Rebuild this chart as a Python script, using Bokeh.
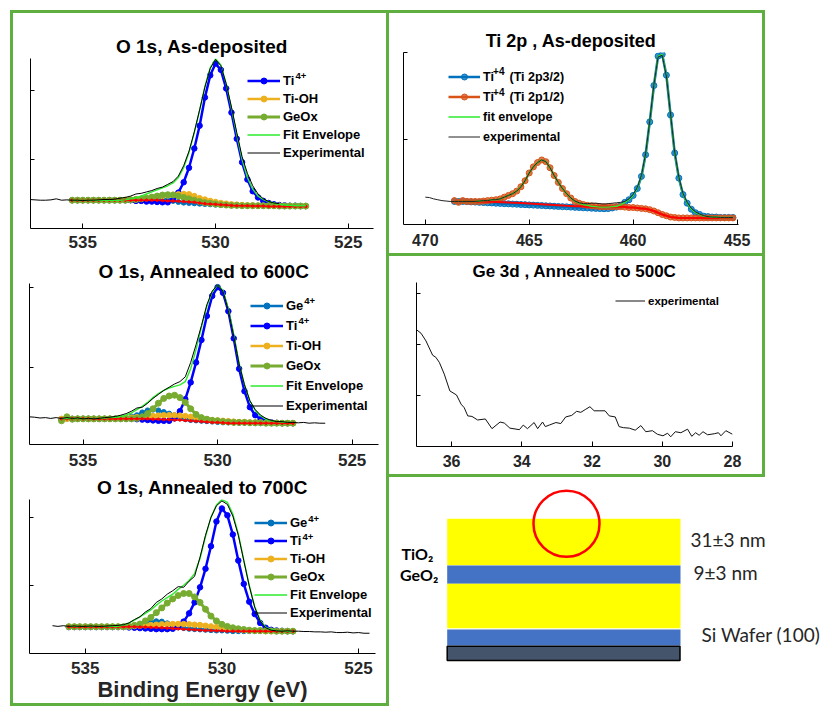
from bokeh.plotting import figure
from bokeh.models import Range1d, FixedTicker, Legend, LegendItem, Spacer, Label
from bokeh.layouts import row, column
from bokeh.embed import file_html
from bokeh.resources import INLINE
from bokeh.core.properties import value

# ======================= DATA =======================
# ---- O 1s, As-deposited ----
P1_E = [535.4, 535.2, 535.0, 534.8, 534.6, 534.4, 534.2, 534.0, 533.8, 533.6, 533.4, 533.2, 533.0,
        532.8, 532.6, 532.4, 532.2, 532.0, 531.8, 531.6, 531.4, 531.2, 531.0, 530.8, 530.6, 530.4,
        530.2, 530.0, 529.8, 529.6, 529.4, 529.2, 529.0, 528.8, 528.6, 528.4, 528.2, 528.0, 527.8,
        527.6, 527.4, 527.2, 527.0, 526.8, 526.6]
P1_TI4 = [0.41, 0.41, 0.41, 0.41, 0.41, 0.41, 0.41, 0.41, 0.41, 0.41, 0.41,
          0.41, 0.40, 0.40, 0.39, 0.39, 0.385, 0.38, 0.38, 0.42,
          0.52, 0.67, 0.88, 1.16, 1.49, 1.90, 2.22, 2.39, 2.30, 2.03,
          1.68, 1.30, 0.96, 0.71, 0.54, 0.45, 0.40, 0.37, 0.35, 0.34,
          0.335, 0.33, 0.33, 0.325, 0.325]
P1_TIOH = [0.41, 0.41, 0.41, 0.41, 0.41, 0.41, 0.41, 0.41, 0.41, 0.41,
           0.415, 0.42, 0.425, 0.43, 0.44, 0.45, 0.46, 0.47, 0.48, 0.49,
           0.495, 0.50, 0.495, 0.47, 0.44, 0.42, 0.40, 0.385, 0.37, 0.36,
           0.35, 0.345, 0.34, 0.335, 0.335, 0.33, 0.33, 0.33, 0.33, 0.33,
           0.325, 0.325, 0.325, 0.325, 0.325]
P1_GEOX = [0.41, 0.41, 0.41, 0.41, 0.41, 0.41, 0.41, 0.41, 0.41, 0.41, 0.41,
           0.415, 0.42, 0.43, 0.44, 0.455, 0.47, 0.485, 0.49, 0.485, 0.47,
           0.45, 0.43, 0.41, 0.39, 0.375, 0.365, 0.355, 0.345, 0.34, 0.335,
           0.335, 0.33, 0.33, 0.33, 0.33, 0.33, 0.33, 0.33, 0.325, 0.325, 0.325, 0.325, 0.325, 0.325]
P1_GE4 = [0.41, 0.41, 0.41, 0.41, 0.41, 0.41, 0.41, 0.41, 0.41, 0.41, 0.41, 0.41, 0.41, 0.41, 0.41,
          0.415, 0.42, 0.42, 0.415, 0.40, 0.385, 0.375, 0.37, 0.365, 0.36,
          0.355, 0.35, 0.345, 0.34, 0.34, 0.335, 0.335, 0.33, 0.33, 0.33,
          0.33, 0.33, 0.325, 0.325, 0.325, 0.325, 0.325, 0.325, 0.325, 0.325]
P1_BG = [0.41, 0.41, 0.41, 0.41, 0.41, 0.41, 0.41, 0.41, 0.41, 0.41, 0.41, 0.41, 0.41, 0.41, 0.41, 0.41, 0.41,
         0.405, 0.40, 0.40, 0.395, 0.39, 0.385, 0.38, 0.37, 0.36, 0.355,
         0.35, 0.345, 0.34, 0.335, 0.33, 0.33, 0.33, 0.325, 0.325, 0.325,
         0.32, 0.32, 0.32, 0.32, 0.32, 0.32, 0.32, 0.32]
P1_ENV = [0.41, 0.41, 0.41, 0.41, 0.41, 0.41, 0.41, 0.41, 0.41, 0.41,
          0.415, 0.43, 0.445, 0.47, 0.50, 0.53, 0.56, 0.59, 0.62, 0.66,
          0.74, 0.88, 1.10, 1.39, 1.71, 2.06, 2.33, 2.46, 2.37, 2.10,
          1.74, 1.36, 1.00, 0.74, 0.57, 0.47, 0.42, 0.39, 0.37, 0.35,
          0.34, 0.335, 0.33, 0.33, 0.33]
P1_EXP_E = [537.0, 536.8, 536.6, 536.4, 536.2, 536.0, 535.8, 535.6, 535.4, 535.2,
            535.0, 534.8, 534.6, 534.4, 534.2, 534.0, 533.8, 533.6, 533.4, 533.2,
            533.0, 532.8, 532.6, 532.4, 532.2, 532.0, 531.8, 531.6, 531.4, 531.2,
            531.0, 530.8, 530.6, 530.4, 530.2, 530.0, 529.8, 529.6, 529.4, 529.2,
            529.0, 528.8, 528.6, 528.4, 528.2, 528.0, 527.8, 527.6]
P1_EXP = [0.42, 0.415, 0.41, 0.41, 0.415, 0.43, 0.41, 0.415, 0.41, 0.41,
          0.405, 0.41, 0.41, 0.415, 0.42, 0.42, 0.425, 0.44, 0.45, 0.47,
          0.50, 0.51, 0.53, 0.55, 0.58, 0.60, 0.64, 0.68, 0.76, 0.91,
          1.12, 1.40, 1.72, 2.05, 2.32, 2.45, 2.36, 2.10, 1.76, 1.39,
          1.04, 0.80, 0.62, 0.50, 0.43, 0.39, 0.37, 0.36]

# ---- O 1s, Annealed to 600C ----
P2_E = [535.8, 535.6, 535.4, 535.2, 535.0, 534.8, 534.6, 534.4, 534.2, 534.0, 533.8, 533.6, 533.4,
        533.2, 533.0, 532.8, 532.6, 532.4, 532.2, 532.0, 531.8, 531.6, 531.4, 531.2, 531.0, 530.8,
        530.6, 530.4, 530.2, 530.0, 529.8, 529.6, 529.4, 529.2, 529.0, 528.8, 528.6, 528.4, 528.2,
        528.0, 527.8, 527.6, 527.4, 527.2]
P2_GE4 = [0.34, 0.37, 0.35,
          0.355, 0.355, 0.355, 0.355, 0.355, 0.355, 0.355, 0.355,
          0.36, 0.37, 0.385, 0.40, 0.435, 0.46, 0.47, 0.46, 0.44, 0.42,
          0.40, 0.37, 0.35, 0.34, 0.335, 0.33, 0.325, 0.32, 0.315, 0.31,
          0.31, 0.31, 0.305, 0.305, 0.305, 0.30, 0.30, 0.30, 0.30, 0.30, 0.30, 0.30, 0.30]
P2_TI4 = [0.35, 0.36, 0.355,
          0.355, 0.355, 0.355, 0.355, 0.355, 0.355, 0.355, 0.355, 0.355, 0.355, 0.355,
          0.35, 0.345, 0.34, 0.335, 0.33, 0.33, 0.33,
          0.36, 0.45, 0.60, 0.81, 1.06, 1.34, 1.64, 1.89, 2.00, 1.93,
          1.70, 1.36, 0.98, 0.70, 0.50, 0.40, 0.35, 0.32, 0.31, 0.305,
          0.30, 0.30, 0.30]
P2_TIOH = [0.355, 0.355, 0.355, 0.355, 0.355, 0.355, 0.355, 0.355, 0.355, 0.355, 0.355,
           0.36, 0.365, 0.37, 0.375, 0.38, 0.385, 0.39, 0.395, 0.40, 0.40,
           0.40, 0.395, 0.39, 0.38, 0.37, 0.36, 0.35, 0.34, 0.335, 0.33,
           0.325, 0.32, 0.315, 0.315, 0.31, 0.31, 0.31, 0.305, 0.305, 0.305, 0.30, 0.30, 0.30]
P2_GEOX = [0.33, 0.38, 0.35,
           0.355, 0.355, 0.355, 0.355, 0.355, 0.355, 0.355, 0.355, 0.355, 0.355, 0.355,
           0.36, 0.38, 0.42, 0.48, 0.55, 0.61, 0.64, 0.65, 0.62, 0.56,
           0.48, 0.41, 0.37, 0.35, 0.335, 0.33, 0.32, 0.315, 0.31, 0.31,
           0.31, 0.305, 0.305, 0.305, 0.30, 0.30, 0.30, 0.30, 0.30, 0.30]
P2_BG = [0.355, 0.355, 0.355, 0.355, 0.355, 0.355, 0.355, 0.355, 0.355, 0.355, 0.355, 0.355, 0.355,
         0.355, 0.355, 0.355, 0.355,
         0.35, 0.35, 0.345, 0.345, 0.34, 0.34, 0.335, 0.33, 0.325, 0.32, 0.315, 0.31, 0.31, 0.305,
         0.30, 0.30, 0.30, 0.30, 0.30, 0.30, 0.30, 0.30, 0.30, 0.30, 0.30, 0.30, 0.30]
P2_ENV = [0.355, 0.36, 0.355, 0.355, 0.355, 0.355, 0.36, 0.36, 0.365, 0.37,
          0.375, 0.385, 0.40, 0.43, 0.47, 0.51, 0.56, 0.62, 0.67, 0.71,
          0.74, 0.76, 0.78, 0.82, 0.98, 1.22, 1.50, 1.76, 1.94, 2.03,
          1.96, 1.73, 1.41, 1.05, 0.78, 0.58, 0.46, 0.39, 0.35, 0.33,
          0.32, 0.315, 0.31, 0.31]
P2_EXP_E = [537.0, 536.8, 536.6, 536.4, 536.2, 536.0, 535.8, 535.6, 535.4, 535.2,
            535.0, 534.8, 534.6, 534.4, 534.2, 534.0, 533.8, 533.6, 533.4, 533.2,
            533.0, 532.8, 532.6, 532.4, 532.2, 532.0, 531.8, 531.6, 531.4, 531.2,
            531.0, 530.8, 530.6, 530.4, 530.2, 530.0, 529.8, 529.6, 529.4, 529.2,
            529.0, 528.8, 528.6, 528.4, 528.2, 528.0, 527.8, 527.6, 527.4, 527.2,
            527.0, 526.8, 526.6, 526.4, 526.2, 526.0]
P2_EXP = [0.38, 0.375, 0.365, 0.37, 0.36, 0.37, 0.36, 0.37, 0.36, 0.365,
          0.355, 0.36, 0.355, 0.36, 0.37, 0.375, 0.385, 0.40, 0.42, 0.45,
          0.49, 0.50, 0.55, 0.61, 0.66, 0.71, 0.75, 0.79, 0.82, 0.88,
          1.06, 1.28, 1.52, 1.78, 1.95, 2.03, 1.95, 1.71, 1.39, 1.04,
          0.78, 0.58, 0.47, 0.40, 0.36, 0.335, 0.32, 0.32, 0.31, 0.31,
          0.305, 0.31, 0.30, 0.305, 0.30, 0.30]

# ---- O 1s, Annealed to 700C ----
P3_E = [535.6, 535.4, 535.2, 535.0, 534.8, 534.6, 534.4, 534.2, 534.0, 533.8, 533.6, 533.4, 533.2,
        533.0, 532.8, 532.6, 532.4, 532.2, 532.0, 531.8, 531.6, 531.4, 531.2, 531.0, 530.8, 530.6,
        530.4, 530.2, 530.0, 529.8, 529.6, 529.4, 529.2, 529.0, 528.8, 528.6, 528.4, 528.2, 528.0,
        527.8, 527.6, 527.4]
P3_GE4 = [0.405, 0.405, 0.405, 0.405, 0.405, 0.405, 0.405, 0.405, 0.405, 0.405, 0.405, 0.405,
          0.41, 0.42, 0.445, 0.47, 0.485, 0.48, 0.455, 0.425, 0.40, 0.385,
          0.375, 0.37, 0.365, 0.36, 0.355, 0.35, 0.35, 0.345,
          0.34, 0.34, 0.34, 0.34, 0.34, 0.34, 0.34, 0.34, 0.34, 0.34, 0.34, 0.34]
P3_TI4 = [0.40, 0.40, 0.40, 0.40, 0.40, 0.40, 0.40, 0.40, 0.40, 0.40, 0.40,
          0.395, 0.39, 0.385, 0.38, 0.375, 0.37, 0.37, 0.37, 0.375,
          0.40, 0.48, 0.60, 0.76, 0.98, 1.25, 1.58, 1.94, 2.13, 2.03,
          1.75, 1.37, 1.03, 0.77, 0.59, 0.46, 0.39, 0.36, 0.35, 0.345,
          0.34, 0.34]
P3_TIOH = [0.405, 0.405, 0.405, 0.405, 0.405, 0.405, 0.405, 0.405, 0.405, 0.405, 0.405,
           0.41, 0.415, 0.42, 0.425, 0.43, 0.435, 0.44, 0.44, 0.445, 0.445,
           0.445, 0.44, 0.435, 0.43, 0.42, 0.41, 0.40, 0.39, 0.38, 0.37,
           0.36, 0.355, 0.35, 0.345, 0.345, 0.34, 0.34, 0.34, 0.34, 0.34, 0.34]
P3_GEOX = [0.405, 0.405, 0.405, 0.405, 0.405, 0.405, 0.405, 0.405, 0.405, 0.405, 0.405,
           0.41, 0.425, 0.445, 0.49, 0.54, 0.61, 0.68, 0.75, 0.81, 0.86,
           0.89, 0.89, 0.84, 0.76, 0.66, 0.56, 0.49, 0.44, 0.41, 0.39,
           0.375, 0.365, 0.355, 0.35, 0.35, 0.345, 0.345, 0.34, 0.34, 0.34, 0.34]
P3_BG = [0.405, 0.405, 0.405, 0.405, 0.405, 0.405, 0.405, 0.405, 0.405, 0.405, 0.405, 0.405, 0.405,
         0.40, 0.40, 0.395, 0.395, 0.39, 0.385, 0.38, 0.375, 0.37, 0.365, 0.36, 0.355, 0.35, 0.35,
         0.345, 0.345,
         0.34, 0.34, 0.34, 0.34, 0.34, 0.34, 0.34, 0.34, 0.34, 0.34, 0.34, 0.34, 0.34]
P3_ENV = [0.41, 0.41, 0.41, 0.41, 0.41, 0.41, 0.41, 0.41, 0.41, 0.41,
          0.43, 0.46, 0.50, 0.55, 0.60, 0.65, 0.72, 0.78, 0.83, 0.88,
          0.95, 1.01, 1.08, 1.18, 1.40, 1.72, 2.00, 2.18, 2.26, 2.22,
          2.05, 1.76, 1.38, 1.01, 0.70, 0.50, 0.40, 0.36, 0.35, 0.345,
          0.34, 0.34]
P3_EXP_E = [536.2, 536.0, 535.8, 535.6, 535.4, 535.2, 535.0, 534.8, 534.6, 534.4,
            534.2, 534.0, 533.8, 533.6, 533.4, 533.2, 533.0, 532.8, 532.6, 532.4,
            532.2, 532.0, 531.8, 531.6, 531.4, 531.2, 531.0, 530.8, 530.6, 530.4,
            530.2, 530.0, 529.8, 529.6, 529.4, 529.2, 529.0, 528.8, 528.6, 528.4,
            528.2, 528.0, 527.8, 527.6, 527.4, 527.2, 527.0, 526.8, 526.6, 526.4,
            526.2, 526.0, 525.8, 525.6, 525.4, 525.2, 525.0, 524.8, 524.6]
P3_EXP = [0.42, 0.41, 0.42, 0.41, 0.415, 0.41, 0.41, 0.415, 0.41, 0.41,
          0.415, 0.42, 0.425, 0.435, 0.46, 0.51, 0.55, 0.62, 0.67, 0.76,
          0.81, 0.88, 0.93, 0.99, 0.98, 1.07, 1.14, 1.42, 1.74, 2.00,
          2.17, 2.24, 2.19, 2.02, 1.74, 1.37, 1.00, 0.69, 0.49, 0.39,
          0.355, 0.345, 0.34, 0.345, 0.34, 0.34, 0.335, 0.335, 0.33, 0.33,
          0.325, 0.33, 0.32, 0.32, 0.325, 0.315, 0.32, 0.31, 0.31]

# ---- Ti 2p, As-deposited ----
TI_E = [468.6, 468.4, 468.2, 468.0, 467.8, 467.6, 467.4, 467.2, 467.0, 466.8, 466.6, 466.4,
        466.2, 466.0, 465.8, 465.6, 465.4, 465.2, 465.0, 464.8, 464.6, 464.4, 464.2, 464.0,
        463.8, 463.6, 463.4, 463.2, 463.0, 462.8, 462.6, 462.4, 462.2, 462.0, 461.8, 461.6,
        461.4, 461.2, 461.0, 460.8, 460.6, 460.4, 460.2, 460.0, 459.8, 459.6, 459.4, 459.2,
        459.0, 458.8, 458.6, 458.4, 458.2, 458.0, 457.8, 457.6, 457.4, 457.2, 457.0, 456.8,
        456.6, 456.4, 456.2, 456.0, 455.8, 455.6, 455.4, 455.2]
TI_2P3 = [0.28, 0.28, 0.28, 0.278, 0.275, 0.273,
          0.27, 0.268, 0.265, 0.263, 0.26, 0.258,
          0.255, 0.253, 0.25, 0.248, 0.245, 0.243,
          0.24, 0.238, 0.235, 0.233, 0.23, 0.228,
          0.225, 0.222, 0.22, 0.218, 0.215, 0.212,
          0.21, 0.207, 0.205, 0.202, 0.20, 0.198,
          0.196, 0.198, 0.205, 0.215, 0.23,
          0.27, 0.30, 0.35, 0.43, 0.57, 0.82, 1.20,
          1.62, 1.96, 1.98, 1.74, 1.28, 0.84,
          0.55, 0.36, 0.26, 0.19, 0.15, 0.13,
          0.11, 0.105, 0.10, 0.10, 0.095, 0.095, 0.095, 0.095]
TI_2P1 = [0.29, 0.27, 0.29, 0.28, 0.28, 0.28, 0.28, 0.285,
          0.29, 0.295, 0.30, 0.31, 0.33, 0.35,
          0.37, 0.40, 0.45, 0.52, 0.61, 0.68,
          0.73, 0.76, 0.74, 0.67, 0.58, 0.50,
          0.43, 0.37, 0.32, 0.28, 0.26, 0.245,
          0.235, 0.23, 0.225, 0.22, 0.22, 0.22,
          0.22, 0.22, 0.22, 0.215, 0.21, 0.21,
          0.205, 0.20, 0.195, 0.185, 0.17, 0.15,
          0.13, 0.115, 0.10, 0.095, 0.09, 0.09,
          0.09, 0.09, 0.09, 0.09, 0.09, 0.09, 0.09, 0.09, 0.09, 0.09, 0.09, 0.09]
TI_BG = [0.28, 0.28, 0.28, 0.28, 0.28, 0.28, 0.28, 0.28,
         0.278, 0.276, 0.274, 0.272, 0.27, 0.268,
         0.266, 0.264, 0.262, 0.26, 0.257, 0.254,
         0.251, 0.248, 0.245, 0.242, 0.239, 0.236,
         0.233, 0.23, 0.228, 0.226, 0.224, 0.222,
         0.22, 0.22, 0.22, 0.22, 0.22, 0.22,
         0.22, 0.22, 0.22, 0.215, 0.21, 0.21,
         0.205, 0.20, 0.195, 0.185, 0.17, 0.15,
         0.13, 0.115, 0.10, 0.095, 0.09, 0.09,
         0.09, 0.09, 0.09, 0.09, 0.09, 0.09, 0.09, 0.09, 0.09, 0.09, 0.09, 0.09]
TI_ENV = [0.28, 0.28, 0.28, 0.28, 0.28, 0.28, 0.285, 0.29,
          0.29, 0.30, 0.30, 0.31, 0.33, 0.35,
          0.37, 0.40, 0.45, 0.52, 0.61, 0.68,
          0.73, 0.76, 0.74, 0.67, 0.58, 0.50,
          0.43, 0.37, 0.32, 0.28, 0.26, 0.245,
          0.235, 0.225, 0.22, 0.215, 0.215, 0.215,
          0.22, 0.225, 0.24, 0.27, 0.30, 0.35,
          0.43, 0.57, 0.82, 1.20, 1.62, 1.96,
          1.98, 1.74, 1.28, 0.84, 0.55, 0.36,
          0.26, 0.19, 0.15, 0.13, 0.11, 0.105,
          0.10, 0.10, 0.095, 0.095, 0.095, 0.095]
TI_EXP_E = [470.0, 469.8, 469.6, 469.4, 469.2, 469.0, 468.8] + TI_E
TI_EXP = [0.33, 0.325, 0.31, 0.30, 0.29, 0.285, 0.28,
          0.28, 0.28, 0.28, 0.28, 0.28, 0.28, 0.285, 0.29,
          0.29, 0.30, 0.30, 0.31, 0.33, 0.35,
          0.37, 0.40, 0.45, 0.52, 0.61, 0.68,
          0.73, 0.76, 0.74, 0.67, 0.58, 0.50,
          0.43, 0.37, 0.32, 0.285, 0.265, 0.255,
          0.255, 0.26, 0.26, 0.255, 0.25, 0.255,
          0.26, 0.265, 0.27, 0.28, 0.31, 0.36,
          0.44, 0.58, 0.83, 1.21, 1.63, 1.95,
          1.97, 1.73, 1.29, 0.85, 0.56, 0.37,
          0.27, 0.20, 0.16, 0.135, 0.115, 0.105,
          0.10, 0.10, 0.095, 0.095, 0.095, 0.095]

# ---- Ge 3d, Annealed to 500C ----
GE_E = [37.0, 36.87, 36.73, 36.54, 36.45, 36.35, 36.21, 36.05, 35.86, 35.73,
        35.64, 35.54, 35.42, 35.26, 35.04, 34.85, 34.62, 34.5, 34.34, 34.07,
        33.96, 33.84, 33.65, 33.55, 33.41, 33.33, 33.22, 33.03, 32.89, 32.75,
        32.58, 32.44, 32.32, 32.18, 32.06, 31.94, 31.8, 31.63, 31.51, 31.34,
        31.23, 31.11, 30.94, 30.77, 30.61, 30.47, 30.28, 30.14, 29.98, 29.85,
        29.76, 29.63, 29.47, 29.28, 29.16, 29.05, 28.95, 28.84, 28.71, 28.52,
        28.4, 28.33, 28.19, 28.0]
GE_Y = [2.29, 2.22, 2.07, 1.79, 1.75, 1.65, 1.42, 1.09, 1.01, 0.83,
        0.76, 0.60, 0.59, 0.52, 0.54, 0.35, 0.48, 0.46, 0.36, 0.33,
        0.42, 0.35, 0.47, 0.35, 0.48, 0.39, 0.42, 0.47, 0.45, 0.58,
        0.61, 0.69, 0.67, 0.73, 0.78, 0.70, 0.70, 0.70, 0.60, 0.58,
        0.39, 0.37, 0.36, 0.32, 0.41, 0.29, 0.31, 0.24, 0.21, 0.26,
        0.19, 0.29, 0.27, 0.34, 0.20, 0.27, 0.22, 0.29, 0.23, 0.25,
        0.27, 0.21, 0.31, 0.24]

# tick values
O1S_XTICKS = [535, 530, 525]
TI_XTICKS = [470, 465, 460, 455]
GE_XTICKS = [36, 34, 32, 30, 28]

# schematic labels
STACK_LEFT = ["TiO\u2082", "GeO\u2082"]
STACK_RIGHT = ["31\u00b13 nm", "9\u00b13 nm", "Si Wafer (100)"]

# ======================= STYLE =======================
FONT = "Liberation Sans"
BOX = "#5FAE40"
C_GE4 = "#0072BD"
C_TI4 = "#0000FF"
C_TIOH = "#EDB120"
C_GEOX = "#77AC30"
C_ENV = "#2DEB2D"
C_EXP = "#000000"
C_BG = "#FF0000"
C_2P3 = "#0072BD"
C_2P1 = "#D95319"


def make_panel(w, h, xr, yr, borders, title, tsize, xticks, yticks, tick_px, tick_standoff):
    l, r, t, b = borders
    p = figure(width=w, height=h, x_range=Range1d(*xr), y_range=Range1d(*yr),
               output_backend="svg", toolbar_location=None, title=title,
               min_border_left=l, min_border_right=r, min_border_top=t, min_border_bottom=b)
    p.frame_align = False
    p.background_fill_color = None
    p.border_fill_color = None
    p.outline_line_color = None
    p.xgrid.visible = False
    p.ygrid.visible = False
    p.title.align = "center"
    p.title.text_font = FONT
    p.title.text_font_size = f"{tsize}px"
    p.title.text_font_style = "bold"
    p.title.text_color = "#000000"
    p.title.standoff = 3
    xa = p.xaxis[0]
    xa.ticker = FixedTicker(ticks=xticks)
    xa.major_tick_in = 5
    xa.major_tick_out = 0
    xa.minor_tick_line_color = None
    xa.axis_line_color = "#000000"
    xa.major_tick_line_color = "#000000"
    xa.major_label_text_font = FONT
    xa.major_label_text_font_size = f"{tick_px}px"
    xa.major_label_text_font_style = "bold"
    xa.major_label_text_color = "#262626"
    xa.major_label_standoff = tick_standoff
    ya = p.yaxis[0]
    ya.ticker = FixedTicker(ticks=yticks)
    ya.major_tick_in = 4
    ya.major_tick_out = 0
    ya.minor_tick_line_color = None
    ya.axis_line_color = "#000000"
    ya.major_tick_line_color = "#000000"
    ya.major_label_text_color = None
    return p


def comp(p, x, y, color, lw=2.5, size=5.5, alpha=1.0):
    r1 = p.line(x, y, line_color=color, line_width=lw)
    r2 = p.scatter(x, y, size=size, fill_color=color, line_color=color, fill_alpha=alpha)
    return [r1, r2]


def add_legend(p, entries, loc, font_px, spacing, glyph_w, item_h):
    items = [LegendItem(label=lab, renderers=rs) for lab, rs in entries]
    lg = Legend(items=items, location=loc, orientation="vertical", padding=0, margin=0,
                spacing=spacing, glyph_width=glyph_w, glyph_height=item_h, label_height=item_h,
                label_standoff=3, label_text_font=FONT, label_text_font_size=f"{font_px}px",
                label_text_font_style="bold", label_text_color="#000000",
                border_line_color=None, background_fill_alpha=0)
    p.add_layout(lg)


def add_text(p, x, y, text, size_px):
    p.add_layout(Label(x=x, y=y, text=text, text_font=FONT, text_font_size=f"{size_px}px",
                       text_font_style="bold", text_color="#000000",
                       text_align="left", text_baseline="middle"))


def o1s_panel(w, h, xr, yr, borders, title, E, ge4, ti4, tioh, geox, bg, env, xe, ex,
              tick_standoff, leg_loc, leg_spacing, ge4_in_legend):
    p = make_panel(w, h, xr, yr, borders, title, 19, O1S_XTICKS, [1, 2], 17, tick_standoff)
    r_ge4 = comp(p, E, ge4, C_GE4, lw=2.5, size=5)
    r_ti4 = comp(p, E, ti4, C_TI4, lw=2.5, size=5.5)
    r_tioh = comp(p, E, tioh, C_TIOH, lw=2.5, size=5.5)
    r_geox = comp(p, E, geox, C_GEOX, lw=3, size=6)
    p.line(E, bg, line_color=C_BG, line_width=1.5)
    p.scatter(E, bg, size=2.5, fill_color=C_BG, line_color=C_BG)
    r_env = [p.line(E, env, line_color=C_ENV, line_width=1.4)]
    r_exp = [p.line(xe, ex, line_color=C_EXP, line_width=1)]
    entries = []
    if ge4_in_legend:
        entries.append(("Ge", r_ge4))
    entries += [("Ti", r_ti4), ("Ti-OH", r_tioh), ("GeOx", r_geox),
                ("Fit Envelope", r_env), ("Experimental", r_exp)]
    add_legend(p, entries, leg_loc, 13, leg_spacing, 33, 15)
    return p


# ---- left column ----
p1 = o1s_panel(379, 245, (536.97, 524.05), (0.0, 2.464), (20, 16, 48, 27), "O 1s, As-deposited",
               P1_E, P1_GE4, P1_TI4, P1_TIOH, P1_GEOX, P1_BG, P1_ENV, P1_EXP_E, P1_EXP,
               7, (217, 68), 3, False)
add_text(p1, 526.99, 2.21, "4+", 9.5)

p2 = o1s_panel(379, 218, (536.99, 524.02), (0.034, 2.046), (19, 11, 28, 29), "O 1s, Annealed to 600C",
               P2_E, P2_GE4, P2_TI4, P2_TIOH, P2_GEOX, P2_BG, P2_ENV, P2_EXP_E, P2_EXP,
               9, (221, 31), 5, True)
add_text(p2, 526.78, 1.828, "4+", 9.5)
add_text(p2, 526.99, 1.578, "4+", 9.5)

p3 = o1s_panel(379, 233, (537.04, 524.38), (0.0145, 2.261), (19, 14, 25, 53), "O 1s, Annealed to 700C",
               P3_E, P3_GE4, P3_TI4, P3_TIOH, P3_GEOX, P3_BG, P3_ENV, P3_EXP_E, P3_EXP,
               8, (225, 33), 3, True)
add_text(p3, 526.84, 1.978, "4+", 9.5)
add_text(p3, 527.05, 1.717, "4+", 9.5)
p3.xaxis.axis_label = "Binding Energy (eV)"
p3.xaxis.axis_label_text_font = FONT
p3.xaxis.axis_label_text_font_size = "22px"
p3.xaxis.axis_label_text_font_style = "bold"
p3.xaxis.axis_label_text_color = "#262626"
p3.xaxis.axis_label_standoff = 0

# ---- Ti 2p ----
ti = make_panel(376, 246, (471.05, 454.93), (0.0139, 2.002), (14, 27, 42, 32), "Ti 2p , As-deposited",
                18, TI_XTICKS, [1, 2], 16, 9)
r_3 = comp(ti, TI_E, TI_2P3, C_2P3, lw=2.5, size=6, alpha=0.75)
r_1 = comp(ti, TI_E, TI_2P1, C_2P1, lw=2.5, size=6, alpha=0.75)
ti.line(TI_E, TI_BG, line_color=C_BG, line_width=2)
r_te = [ti.line(TI_E, TI_ENV, line_color=C_ENV, line_width=1.4)]
r_tx = [ti.line(TI_EXP_E, TI_EXP, line_color="#222222", line_width=1)]
add_legend(ti, [("Ti", r_3), ("Ti ", r_1),
                ("fit envelope", r_te), ("experimental", r_tx)], (45, 80), 12.5, 5, 32, 15)
add_text(ti, 466.74, 1.783, "+4", 10)
add_text(ti, 466.74, 1.551, "+4", 10)
add_text(ti, 465.95, 1.719, "(Ti 2p3/2)", 12.5)
add_text(ti, 465.95, 1.488, "(Ti 2p1/2)", 12.5)
ti.styles = {"box-shadow": f"inset 0 3px 0 0 {BOX}, inset -3px 0 0 0 {BOX}, inset 0 -3px 0 0 {BOX}"}

# ---- Ge 3d ----
ge = make_panel(376, 221, (37.0, 28.0), (0.0, 3.216), (27, 33, 26, 31), "Ge 3d , Annealed to 500C",
                17, GE_XTICKS, [1, 2, 3], 16, 8)
r_g = [ge.line(GE_E, GE_Y, line_color="#111111", line_width=1)]
add_legend(ge, [("experimental", r_g)], (199, 139), 11.5, 0, 30, 13)
ge.styles = {"box-shadow": f"inset -3px 0 0 0 {BOX}, inset 0 -3px 0 0 {BOX}"}

# ---- schematic ----
sch = figure(width=436, height=229, x_range=Range1d(0, 436), y_range=Range1d(229, 0),
             output_backend="svg", toolbar_location=None, min_border=0,
             x_axis_location=None, y_axis_location=None)
sch.frame_align = False
sch.background_fill_color = None
sch.border_fill_color = None
sch.outline_line_color = None
sch.grid.visible = False
sch.quad(left=[57.7, 57.7, 57.7, 57.7], right=[291, 291, 291, 291],
         top=[41.3, 88.0, 106.3, 152.0], bottom=[87.8, 106.3, 150.7, 168.0],
         fill_color=["#FFFF00", "#4472C4", "#FFFF00", "#4472C4"], line_color=None)
sch.quad(left=[57.7], right=[290.5], top=[168.7], bottom=[183.0],
         fill_color="#44546A", line_color="#000000", line_width=1.5)
sch.circle(x=[177], y=[46.3], radius=33, fill_color=None, line_color="#FF0000", line_width=2.5)
sch.text(x=[12.0, 10.5], y=[76.0, 96.5], text=STACK_LEFT, text_font=value("Lato"),
         text_font_size="16px", text_font_style="bold", text_baseline="middle", text_color="#000000")
sch.text(x=[301, 304, 312], y=[61.5, 94.5, 156.5], text=STACK_RIGHT, text_font=value("Lato"),
         text_font_size="19px", text_baseline="middle", text_color="#262626")

left_box = column(p1, p2, p3, styles={"outline": f"3px solid {BOX}", "outline-offset": "-3px"})
layout = row(Spacer(width=10, height=706),
             column(Spacer(width=379, height=10), left_box),
             column(Spacer(width=436, height=10), ti, ge, sch))

open("out.html", "w").write(file_html(layout, INLINE))
